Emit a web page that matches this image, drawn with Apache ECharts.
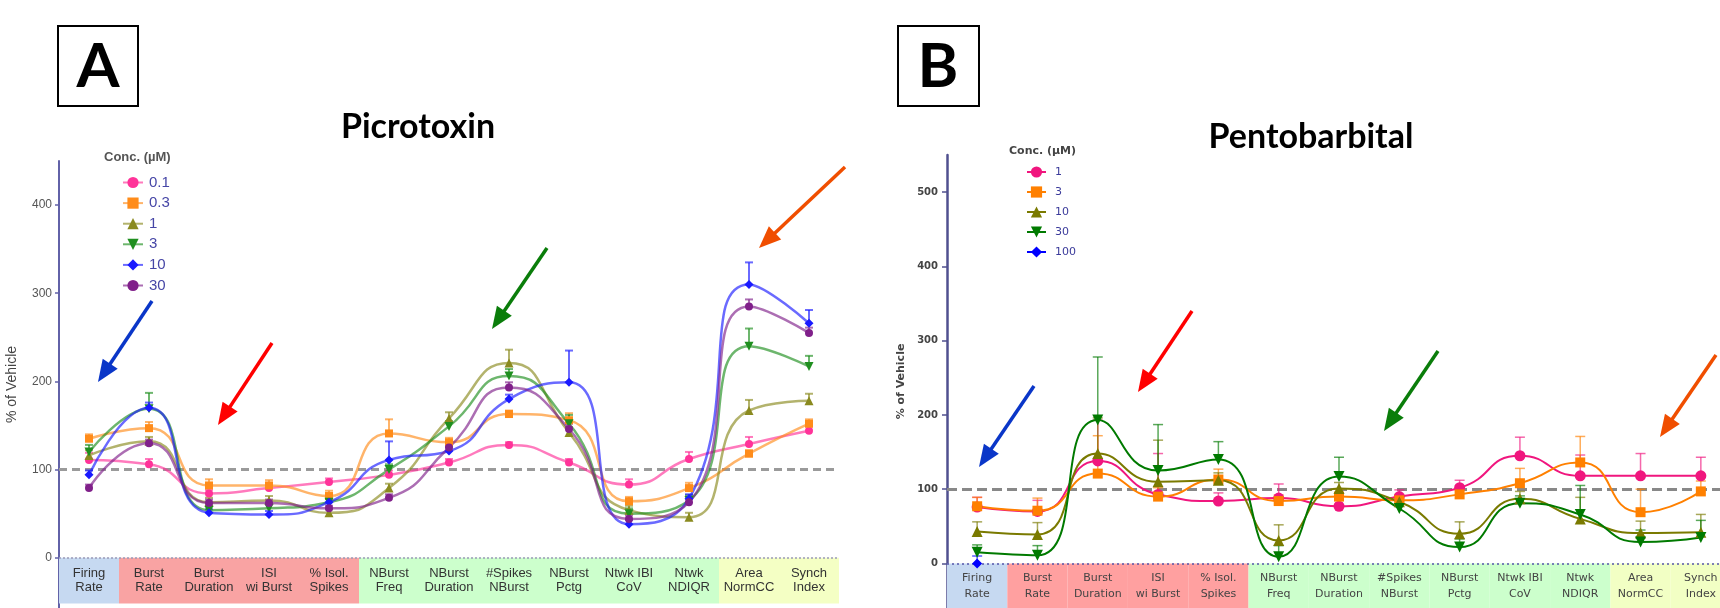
<!DOCTYPE html>
<html><head><meta charset="utf-8">
<script src="https://cdn.jsdelivr.net/npm/echarts@6/dist/echarts.min.js"></script>
<style>html,body{margin:0;padding:0;background:#fff}#c{width:1720px;height:608px}</style>
</head><body><div id="c"></div>
<script>
// ---------- data ----------
const categories = ['Firing\nRate','Burst\nRate','Burst\nDuration','ISI\nwi Burst','% Isol.\nSpikes','NBurst\nFreq','NBurst\nDuration','#Spikes\nNBurst','NBurst\nPctg','Ntwk IBI\nCoV','Ntwk\nNDIQR','Area\nNormCC','Synch\nIndex'];
const categoryGroups = ['firing','burst','burst','burst','burst','network','network','network','network','network','network','synchrony','synchrony'];
const yTicksA = [0,100,200,300,400];
const yTicksB = [0,100,200,300,400,500];

// Panel A: Picrotoxin, Conc. (µM)
const concA = ['0.1','0.3','1','3','10','30'];
const picA_0_1 = [111,106,73,79,86,94,108,128,108,83,112,129,144];
const picA_0_3 = [135,147,82,82,70,141,131,163,156,64,79,118,152];
const picA_1   = [116,132,63,65,51,79,158,221,142,54,46,167,178];
const picA_3   = [120,169,54,56,63,100,149,206,152,50,65,240,217];
const picA_10  = [94,170,51,49,63,111,121,180,199,38,67,310,266];
const picA_30  = [79,130,62,62,56,68,125,193,146,44,63,285,255];
const picErr_0_1 = [8,6,4,4,4,5,4,3,4,6,8,8,5];
const picErr_0_3 = [5,7,7,6,6,16,5,4,8,5,6,4,5];
const picErr_1   = [6,5,5,5,4,5,7,15,6,5,5,12,8];
const picErr_3   = [8,18,5,5,4,6,6,8,10,6,6,20,12];
const picErr_10  = [5,6,4,4,4,21,5,5,36,5,5,25,15];
const picErr_30  = [4,4,4,4,3,4,5,6,6,4,4,8,6];

// Panel B: Pentobarbital, Conc. (µM)
const concB = ['1','3','10','30','100'];
const penB_1   = [76,70,138,93,84,88,77,90,102,145,118,118,118];
const penB_3   = [77,71,121,90,113,84,90,85,93,108,136,69,97];
const penB_10  = [43,39,148,110,112,31,101,83,40,87,60,41,42];
const penB_30  = [15,11,193,125,140,9,117,74,22,81,66,29,35];
const penB_100 = [0];
const penErr_1   = [13,15,55,55,11,19,9,9,10,25,28,30,25];
const penErr_3   = [12,17,51,12,14,8,10,8,8,20,35,31,14];
const penErr_10  = [13,16,48,56,10,21,8,8,16,10,29,16,24];
const penErr_30  = [10,13,85,62,24,15,26,9,11,10,39,16,23];
const penErr_100 = [10];

// ---------- styles ----------
const bandColorsA = {firing:'#c6d9f1', burst:'#f9a3a3', network:'#ccffcc', synchrony:'#f4ffc4'};
const bandColorsB = {firing:'#c6d9f1', burst:'#ffa0a0', network:'#ccffcc', synchrony:'#f2ffc4'};
const colorsA = ['#ff3399','#ff8c1a','#8a8a1f','#1f8f1f','#1a1aff','#80208a'];
const colorsB = ['#f0167e','#ff8000','#7a7a00','#007a00','#0000ff'];
const symbolsA = [['circle',0,8],['rect',0,8],['triangle',0,9],['triangle',180,9],['diamond',0,9],['circle',0,8]];
const symbolsB = [['circle',0,11],['rect',0,10],['triangle',0,11],['triangle',180,11],['diamond',0,10]];
const meansA = [picA_0_1,picA_0_3,picA_1,picA_3,picA_10,picA_30];
const errsA = [picErr_0_1,picErr_0_3,picErr_1,picErr_3,picErr_10,picErr_30];
const meansB = [penB_1,penB_3,penB_10,penB_30,penB_100];
const errsB = [penErr_1,penErr_3,penErr_10,penErr_30,penErr_100];

function errRender(capW, lw){
  return function(params, api){
    const x = api.value(0), v = api.value(1), e = api.value(2);
    const p0 = api.coord([x, v]);
    const p1 = api.coord([x, v + e]);
    const st = {stroke: api.visual('color'), lineWidth: lw, opacity: 0.65};
    return {type:'group', children:[
      {type:'line', shape:{x1:p0[0], y1:p0[1], x2:p1[0], y2:p1[1]}, style:st},
      {type:'line', shape:{x1:p1[0]-capW/2, y1:p1[1], x2:p1[0]+capW/2, y2:p1[1]}, style:st}
    ]};
  };
}

const series = [];
function addPanel(idx, prefix, conc, means, errs, colors, symbols, lineOpt, capW, capLw, bandDepth, bandColors, labelStyle, dashStyle, zeroStyle){
  series.push({
    type:'bar', xAxisIndex:idx, yAxisIndex:idx, barWidth:'100%', barCategoryGap:0, z:1, silent:true,
    data: categoryGroups.map(g => ({value: bandDepth, itemStyle:{color: bandColors[g]}})),
    label: Object.assign({show:true, position:'inside', formatter: p => categories[p.dataIndex]}, labelStyle),
    markLine:{silent:true, symbol:'none', label:{show:false}, z:2,
      data:[{yAxis:100, lineStyle:dashStyle},{yAxis:0, lineStyle:zeroStyle}]}
  });
  conc.forEach((c, k) => {
    const name = prefix + c;
    series.push({
      name, type:'line', xAxisIndex:idx, yAxisIndex:idx, z:4,
      data: means[k], smooth:0.55,
      symbol: symbols[k][0], symbolRotate: symbols[k][1], symbolSize: symbols[k][2],
      lineStyle: Object.assign({color: colors[k]}, lineOpt),
      itemStyle:{color: colors[k]}
    });
    series.push({
      name: 'err' + name, type:'custom', xAxisIndex:idx, yAxisIndex:idx, z:3, silent:true,
      itemStyle:{color: colors[k]},
      renderItem: errRender(capW, capLw),
      encode:{x:0, y:1},
      data: means[k].map((v,i) => [i, v, errs[k][i]])
    });
  });
}
addPanel(0, 'A:', concA, meansA, errsA, colorsA, symbolsA, {width:2.5, opacity:0.65}, 8, 2, -52, bandColorsA,
  {color:'#333', fontSize:13, lineHeight:14, fontFamily:'Liberation Sans'},
  {color:'#9a9a9a', width:3, type:[8,5]}, {color:'#9a9ab8', width:1.5, type:[2,2]});
addPanel(1, 'B:', concB, meansB, errsB, colorsB, symbolsB, {width:2, opacity:1}, 10, 1.5, -60, bandColorsB,
  {color:'#444', fontSize:11, lineHeight:16, fontFamily:'DejaVu Sans'},
  {color:'#888', width:3, type:[10,5]}, {color:'#5555aa', width:1.5, type:[2,3]});

function arrow(x1,y1,x2,y2,color){
  const dx=x2-x1, dy=y2-y1, L=Math.hypot(dx,dy), ux=dx/L, uy=dy/L;
  const hl=22, hw=9, bx=x2-ux*hl, by=y2-uy*hl, nx=-uy, ny=ux;
  return [
    {type:'line', shape:{x1,y1,x2:bx+ux*3,y2:by+uy*3}, style:{stroke:color, lineWidth:3.5}},
    {type:'polygon', shape:{points:[[x2,y2],[bx+nx*hw,by+ny*hw],[bx-nx*hw,by-ny*hw]]}, style:{fill:color}}
  ];
}
const graphics = [].concat(
  arrow(152,301,98,382,'#0a36c8'), arrow(272,343,218,425,'#ff0000'),
  arrow(547,248,492,329,'#0a7d0a'), arrow(845,167,759,248,'#f04e00'),
  arrow(1034,386,979,467,'#0a36c8'), arrow(1192,311,1138,392,'#ff0000'),
  arrow(1438,351,1384,431,'#0a7d0a'), arrow(1716,355,1660,437,'#f04e00'),
  [
    {type:'rect', shape:{x:58,y:26,width:80,height:80}, style:{fill:'none', stroke:'#000', lineWidth:2}},
    {type:'text', x:98, y:67, style:{text:'A', font:'bold 62px Lato', fill:'#000', align:'center', verticalAlign:'middle'}},
    {type:'rect', shape:{x:898,y:26,width:81,height:80}, style:{fill:'none', stroke:'#000', lineWidth:2}},
    {type:'text', x:938, y:67, style:{text:'B', font:'bold 62px Lato', fill:'#000', align:'center', verticalAlign:'middle'}},
    {type:'text', x:418, y:127, style:{text:'Picrotoxin', font:'bold 34px Lato', fill:'#000', align:'center', verticalAlign:'middle'}},
    {type:'text', x:1311, y:137, style:{text:'Pentobarbital', font:'bold 34px Lato', fill:'#000', align:'center', verticalAlign:'middle'}},
    {type:'text', x:104, y:157, style:{text:'Conc. (µM)', font:'bold 13px "Liberation Sans"', fill:'#555', verticalAlign:'middle'}},
    {type:'text', x:1009, y:151, style:{text:'Conc. (µM)', font:'bold 11px "DejaVu Sans"', fill:'#444', verticalAlign:'middle'}}
  ]
);

const option = {
  animation:false,
  backgroundColor:'#fff',
  grid:[
    {left:59, top:161, width:780, height:447, outerBoundsMode:'none'},
    {left:947, top:155, width:784, height:453, outerBoundsMode:'none'}
  ],
  xAxis:[
    {gridIndex:0, type:'category', data:categories, boundaryGap:true, axisLine:{show:false}, axisTick:{show:false}, axisLabel:{show:false}},
    {gridIndex:1, type:'category', data:categories, boundaryGap:true, axisLine:{show:false}, axisTick:{show:false}, axisLabel:{show:false}}
  ],
  yAxis:[
    {gridIndex:0, type:'value', min:-57, max:450, splitLine:{show:false},
     axisLine:{show:true, lineStyle:{color:'#6262a8', width:2}},
     axisTick:{show:true, length:4, customValues:yTicksA, lineStyle:{color:'#6262a8', width:1.5}},
     axisLabel:{customValues:yTicksA, color:'#555', fontSize:12, margin:7, fontFamily:'Liberation Sans'},
     name:'% of Vehicle', nameLocation:'middle', nameGap:40, nameRotate:90,
     nameTextStyle:{color:'#444', fontSize:14, fontFamily:'Liberation Sans'}},
    {gridIndex:1, type:'value', min:-60, max:550, splitLine:{show:false},
     axisLine:{show:true, lineStyle:{color:'#50508f', width:2.5}},
     axisTick:{show:true, length:5, customValues:yTicksB, lineStyle:{color:'#50508f', width:1.5}},
     axisLabel:{customValues:yTicksB, color:'#444', fontSize:10, fontWeight:'bold', margin:9, fontFamily:'DejaVu Sans'},
     name:'% of Vehicle', nameLocation:'middle', nameGap:40, nameRotate:90,
     nameTextStyle:{color:'#444', fontSize:11, fontWeight:'bold', fontFamily:'DejaVu Sans'}}
  ],
  legend:[
    {data: concA.map(c => 'A:' + c), orient:'vertical', left:117, top:170, itemWidth:20, itemHeight:14, itemGap:5.6,
     formatter: n => n.slice(2), selectedMode:false,
     textStyle:{color:'#4646a6', fontSize:15, lineHeight:14, fontFamily:'Liberation Sans', padding:[0,0,0,1]}},
    {data: concB.map(c => 'B:' + c), orient:'vertical', left:1021, top:160, itemWidth:19, itemHeight:14, itemGap:6,
     formatter: n => n.slice(2), selectedMode:false,
     textStyle:{color:'#3a3a9a', fontSize:11, lineHeight:14, fontFamily:'DejaVu Sans', padding:[0,0,0,4]}}
  ],
  graphic: graphics,
  series
};
const chart = echarts.init(document.getElementById('c'), null, {renderer:'canvas'});
chart.setOption(option);
</script></body></html>
